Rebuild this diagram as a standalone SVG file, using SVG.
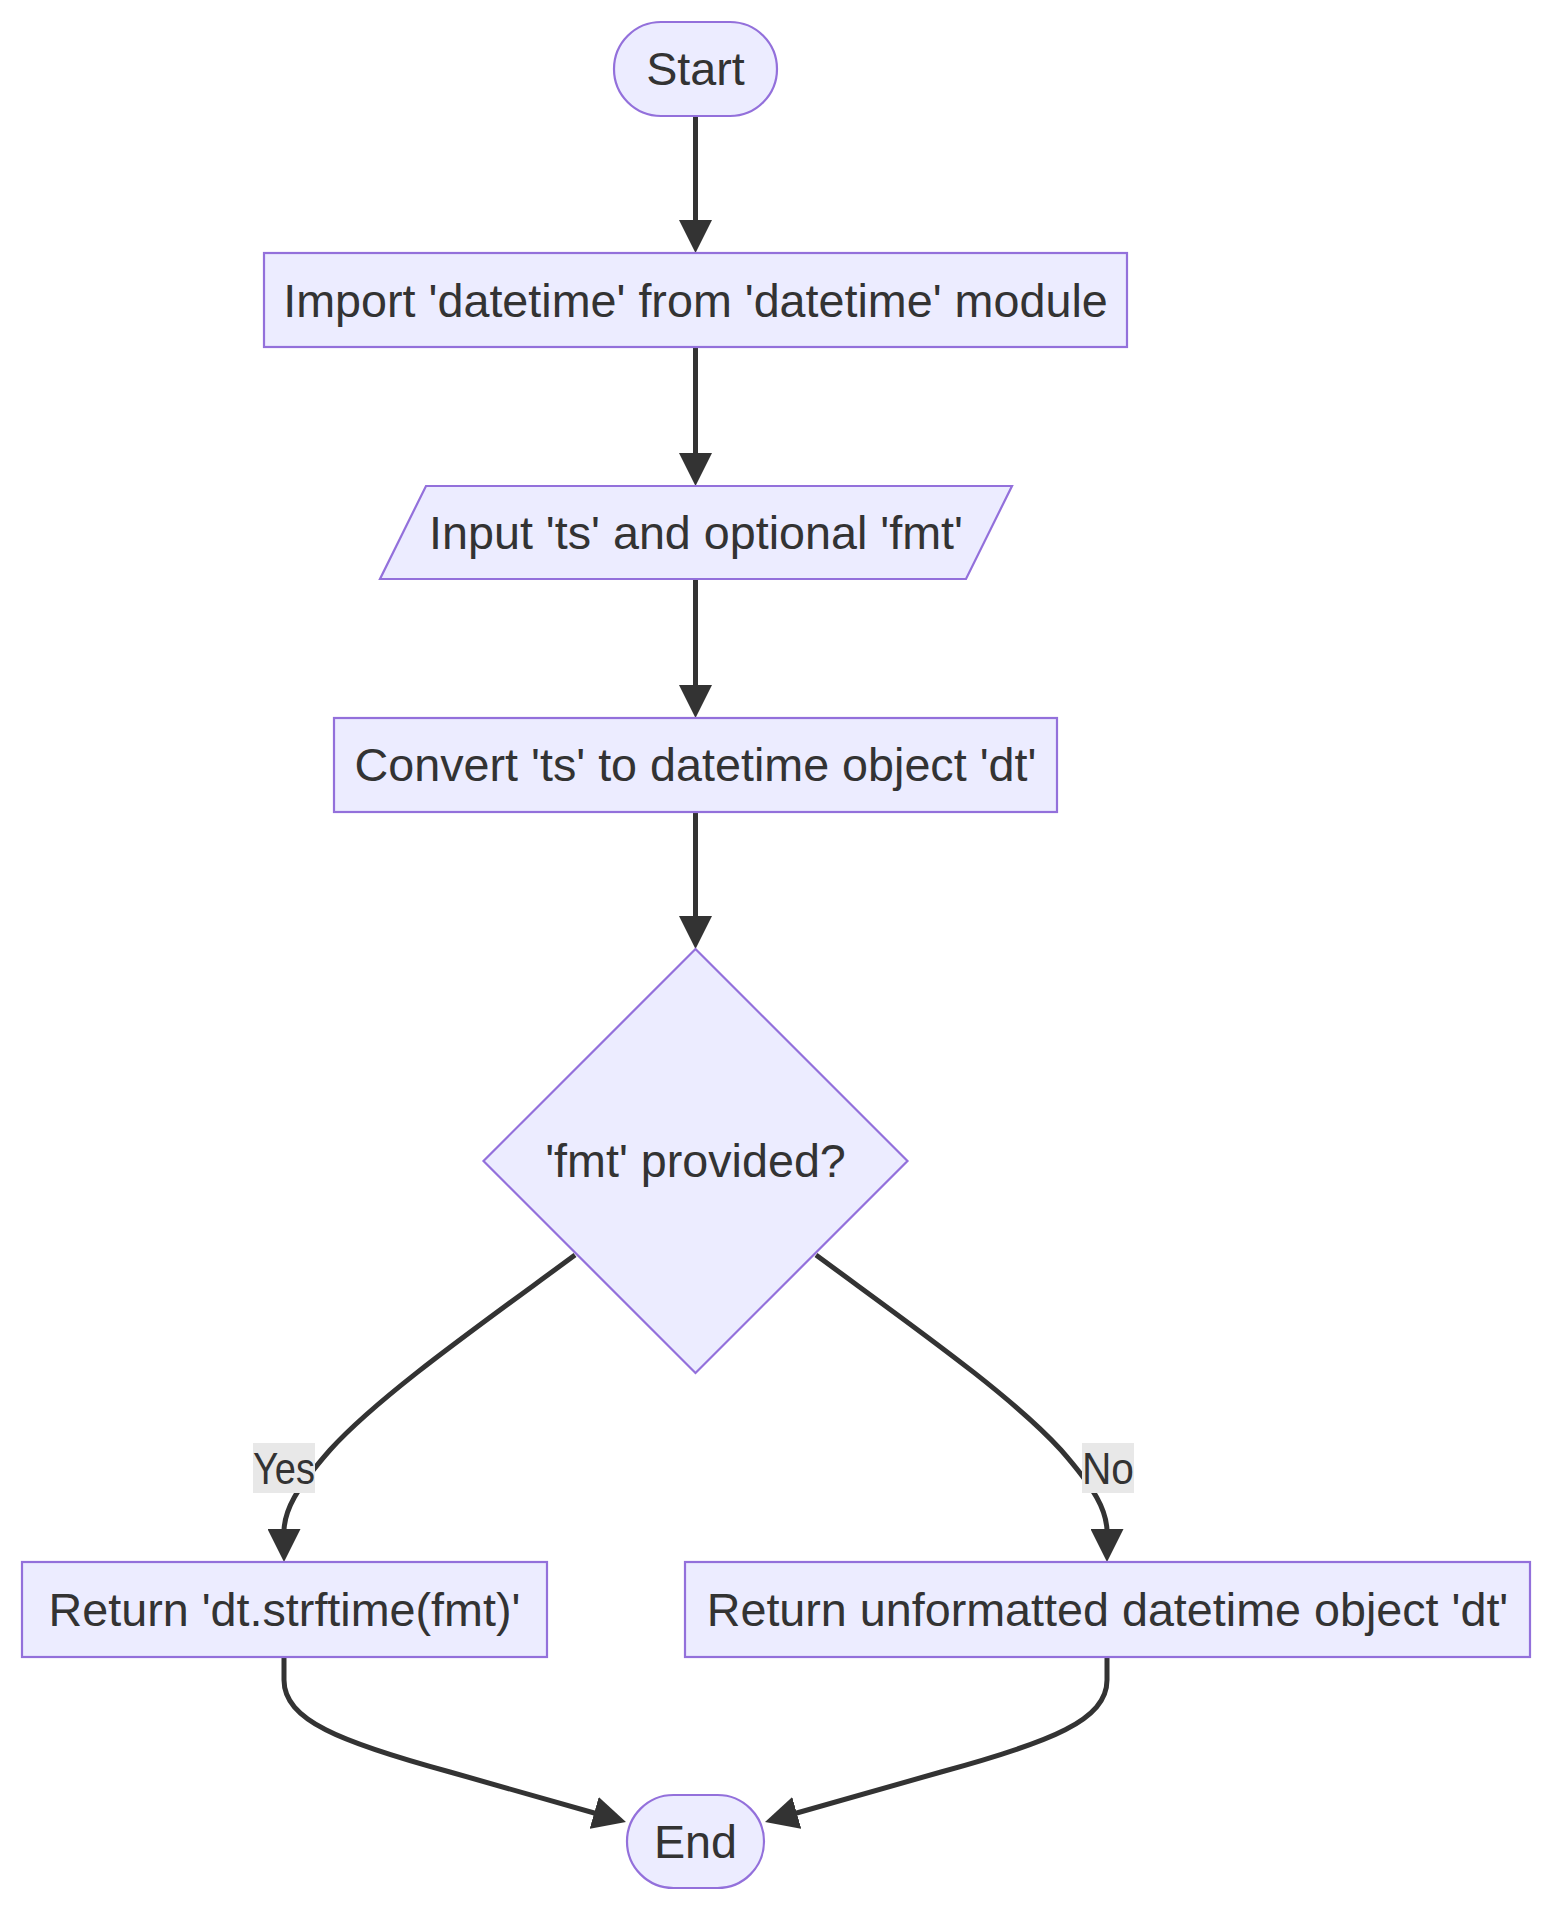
<svg xmlns="http://www.w3.org/2000/svg" width="1568" height="1932" viewBox="0 0 1568 1932">
<style>
.node{fill:#ECECFF;stroke:#9370DB;stroke-width:2.2}
.lbl{font-family:"Liberation Sans",Arial,sans-serif;font-size:46.7px;fill:#333333;text-anchor:middle}
.elbl{font-family:"Liberation Sans",Arial,sans-serif;font-size:44px;fill:#333333;text-anchor:middle}
.edge{fill:none;stroke:#333333;stroke-width:5}
.ebg{fill:#E8E8E8}
</style>
<defs>
<marker id="arr" viewBox="0 0 10 10" markerUnits="userSpaceOnUse" markerWidth="33" markerHeight="33" refX="5" refY="5" orient="auto">
<path d="M0,0 L10,5 L0,10 z" fill="#333333"/>
</marker>
</defs>
<rect width="1568" height="1932" fill="#ffffff"/>
<g id="connectors">
<path class="edge" d="M695.5,116 L695.5,236.5" marker-end="url(#arr)"/>
<path class="edge" d="M695.5,347 L695.5,469.5" marker-end="url(#arr)"/>
<path class="edge" d="M695.5,579 L695.5,701.5" marker-end="url(#arr)"/>
<path class="edge" d="M695.5,812 L695.5,932.5" marker-end="url(#arr)"/>
<path class="edge" d="M575,1255 C480,1325 380,1395 330,1450 C295,1490 285,1510 284,1530 L284,1545.5" marker-end="url(#arr)"/>
<path class="edge" d="M816,1255 C911,1325 1011,1395 1061,1450 C1096,1490 1106,1510 1107,1530 L1107,1545.5" marker-end="url(#arr)"/>
<path class="edge" d="M284,1657 L284,1680 C284,1720 340,1742 450,1772 L610.1,1817.5" marker-end="url(#arr)"/>
<path class="edge" d="M1107,1657 L1107,1680 C1107,1720 1051,1742 941,1772 L780.9,1817.5" marker-end="url(#arr)"/>
<g id="label-yes">
<rect class="ebg" x="253" y="1443" width="62" height="50"/>
<text class="elbl" x="284" y="1484" textLength="62" lengthAdjust="spacingAndGlyphs">Yes</text>
</g>
<g id="label-no">
<rect class="ebg" x="1082" y="1443" width="52" height="50"/>
<text class="elbl" x="1108" y="1484" textLength="52" lengthAdjust="spacingAndGlyphs">No</text>
</g>
</g>
<g id="start">
<rect class="node" x="614" y="22" width="163" height="94" rx="47" ry="47"/>
<text class="lbl" x="695.5" y="85">Start</text>
</g>
<g id="import">
<rect class="node" x="264" y="253" width="863" height="94"/>
<text class="lbl" x="695.5" y="317">Import 'datetime' from 'datetime' module</text>
</g>
<g id="input">
<polygon class="node" points="426,486 1012,486 966,579 380,579"/>
<text class="lbl" x="696" y="549">Input 'ts' and optional 'fmt'</text>
</g>
<g id="convert">
<rect class="node" x="334" y="718" width="723" height="94"/>
<text class="lbl" x="695.5" y="781">Convert 'ts' to datetime object 'dt'</text>
</g>
<g id="decision">
<polygon class="node" points="695.5,949 907.5,1161 695.5,1373 483.5,1161"/>
<text class="lbl" x="695.5" y="1177">'fmt' provided?</text>
</g>
<g id="return-fmt">
<rect class="node" x="22" y="1562" width="525" height="95"/>
<text class="lbl" x="284.5" y="1626">Return 'dt.strftime(fmt)'</text>
</g>
<g id="return-dt">
<rect class="node" x="685" y="1562" width="845" height="95"/>
<text class="lbl" x="1107.5" y="1626">Return unformatted datetime object 'dt'</text>
</g>
<g id="end">
<rect class="node" x="627" y="1795" width="137" height="93" rx="46.5" ry="46.5"/>
<text class="lbl" x="695.5" y="1858">End</text>
</g>
</svg>
